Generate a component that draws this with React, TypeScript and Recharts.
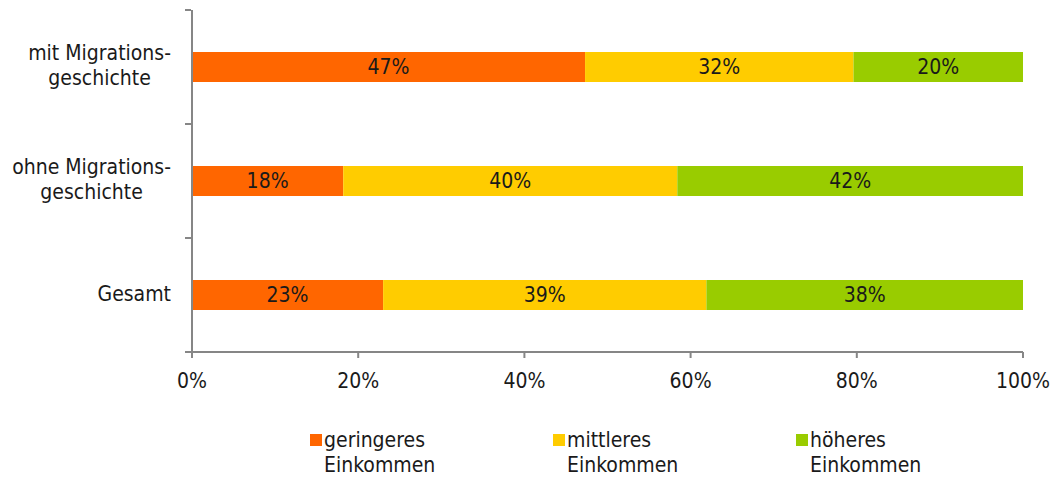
import React from "react";
import { Bar, BarChart, LabelList, XAxis, YAxis } from "recharts";

// Einkommensgruppen nach Migrationsgeschichte (Anteile in %)
const categories = ["mit Migrationsgeschichte", "ohne Migrationsgeschichte", "Gesamt"];
const categoryLines = [["mit Migrations-", "geschichte"], ["ohne Migrations-", "geschichte"], ["Gesamt"]];
const low = [47.3, 18.2, 23.0];
const mid = [32.3, 40.2, 38.9];
const high = [20.4, 41.6, 38.1];
const xTicks = [0, 0.2, 0.4, 0.6, 0.8, 1];

const seriesNames = ["geringeres Einkommen", "mittleres Einkommen", "höheres Einkommen"];
const seriesKeys = ["low", "mid", "high"];
const COLORS = ["#FF6600", "#FFCC00", "#99CC00"];

const data = categories.map((name, i) => ({
  name,
  low: low[i],
  mid: mid[i],
  high: high[i],
}));

const FONT = '"DejaVu Sans Condensed", "DejaVu Sans", sans-serif';
const FS = 21;
const TEXT = "#1a1a1a";
const AXIS = "#868686";

const W = 1055;
const H = 481;
const M = { top: 10, right: 32, bottom: 89, left: 0 };
const X_AXIS_H = 40;
const BAND = (H - M.top - M.bottom - X_AXIS_H) / categories.length;

function YTick(props: any) {
  const { x, y, payload, index } = props;
  const lines = categoryLines[index] ?? [payload.value];
  const lh = 25;
  const h = lines.length * lh;
  return (
    <g>
      <line x1={x + 1} x2={x + 7} y1={y - BAND / 2} y2={y - BAND / 2} stroke={AXIS} strokeWidth={2} />
      <line x1={x + 1} x2={x + 7} y1={y + BAND / 2} y2={y + BAND / 2} stroke={AXIS} strokeWidth={2} />
      <foreignObject x={0} y={y - h / 2 - 1} width={x - 13} height={h + 4}>
        <div style={{ textAlign: "right", fontFamily: FONT, fontSize: FS, lineHeight: `${lh}px`, color: TEXT }}>
          <div style={{ display: "inline-block", textAlign: "center" }}>
            {lines.map((l: string) => (
              <div key={l}>{l}</div>
            ))}
          </div>
        </div>
      </foreignObject>
    </g>
  );
}

function LegendBox() {
  return (
    <div style={{ position: "absolute", left: 0, top: 428, width: W, fontFamily: FONT, fontSize: FS, color: TEXT, lineHeight: "25px" }}>
      {seriesNames.map((n, i) => {
        const [a, b] = n.split(" ");
        return (
          <div key={n} style={{ position: "absolute", left: 310 + i * 243, top: 0, display: "flex" }}>
            <span style={{ width: 12, height: 12, background: COLORS[i], marginTop: 6, marginRight: 2, flex: "none" }} />
            <div>
              <div>{a}</div>
              <div>{b}</div>
            </div>
          </div>
        );
      })}
    </div>
  );
}

export default function App() {
  return (
    <div style={{ position: "absolute", left: 0, top: 0, width: W, height: H, background: "#fff" }}>
      <BarChart width={W} height={H} data={data} layout="vertical" stackOffset="expand" margin={M} barSize={30}>
        <XAxis
          type="number"
          domain={[0, 1]}
          ticks={xTicks}
          tickFormatter={(v: number) => `${Math.round(v * 100)}%`}
          axisLine={{ stroke: AXIS, strokeWidth: 2 }}
          tickLine={{ stroke: AXIS, strokeWidth: 2 }}
          tickSize={6}
          tickMargin={15}
          height={X_AXIS_H}
          tick={{ fill: TEXT, fontSize: FS, fontFamily: FONT }}
          interval={0}
        />
        <YAxis
          type="category"
          dataKey="name"
          width={192}
          axisLine={{ stroke: AXIS, strokeWidth: 2 }}
          tickLine={false}
          tick={<YTick />}
          interval={0}
        />
        {seriesKeys.map((k, i) => (
          <Bar key={k} dataKey={k} name={seriesNames[i]} stackId="a" fill={COLORS[i]} isAnimationActive={false}>
            <LabelList
              dataKey={k}
              position="center"
              formatter={(v: any) => `${Math.round(Number(v))}%`}
              style={{ fill: TEXT, fontSize: FS, fontFamily: FONT }}
            />
          </Bar>
        ))}
      </BarChart>
      <LegendBox />
    </div>
  );
}
